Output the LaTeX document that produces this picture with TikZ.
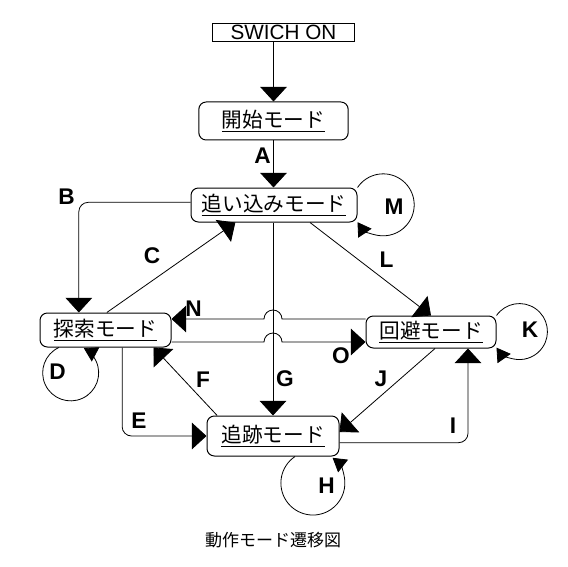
\documentclass[tikz,border=0pt]{standalone}
\usepackage{fontspec}
\setmainfont{Liberation Sans}
\newfontfamily\jpfont{Noto Sans CJK JP}
\usetikzlibrary{arrows.meta,calc,positioning}
\tikzset{
  mode/.style={draw,rounded corners=5.5pt,line width=0.75pt,inner sep=0pt,font=\jpfont\fontsize{15.5}{16}\selectfont},
  srcbox/.style={draw,line width=0.75pt,inner sep=0pt,minimum width=107pt,minimum height=14pt,font=\fontsize{15.5}{16}\selectfont},
  edge/.style={-{Triangle[length=11pt,width=20pt]},line width=0.6pt},
  elbow/.style={edge,rounded corners=7pt},
  selfloop/.style={-{Triangle[length=10pt,width=12pt]},line width=0.6pt},
  lbl/.style={font=\bfseries\fontsize{17}{17}\selectfont,inner sep=0pt}
}
\begin{document}
\begin{tikzpicture}[x=0.75pt,y=-0.75pt]
\useasboundingbox (0,0) rectangle (568,567);
% modes
\node[srcbox] (power) at (283.5,32.5) {SWICH ON};
\node[mode,minimum width=112pt,minimum height=28.5pt] (start) at (273.5,121) {\underline{開始モード}};
\node[mode,minimum width=124.5pt,minimum height=25.5pt] (drive) at (274,205) {\underline{追い込みモード}};
\node[mode,minimum width=98.25pt,minimum height=25.5pt] (search) at (105.5,330) {\underline{探索モード}};
\node[mode,minimum width=97.5pt,minimum height=24pt] (avoid) at (431,332) {\underline{回避モード}};
\node[mode,minimum width=99pt,minimum height=30pt] (chase) at (273,436) {\underline{追跡モード}};
% where N and O jump over G
\coordinate (xN) at (273,319);
\coordinate (xO) at (273,342);
% transitions
\draw[edge] (start.north |- power.south) -- (start.north);
\draw[edge] (start.south) -- (start.south |- drive.north);
\draw[elbow] ([yshift=2pt]drive.west) -| ([xshift=-20pt]search.north);
\draw[edge] ([xshift=1pt]search.north) -- ([xshift=-29pt]drive.south);
\draw[edge] ([xshift=27pt]drive.south) -- (avoid.north);
\draw[edge] (chase.north |- drive.south) -- (chase.north);
\draw[edge] (avoid.west |- xN) -- ($(xN)+(9,0)$) arc[start angle=0,end angle=-180,radius=9] -- (search.east |- xN);
\draw[edge] (search.east |- xO) -- ($(xO)+(-9,0)$) arc[start angle=180,end angle=360,radius=9] -- (avoid.west |- xO);
\draw[elbow] ([xshift=12.5pt]search.south) |- (chase.west);
\draw[edge] ([xshift=8pt]chase.north west) -- ([xshift=-13.5pt]search.south east);
\draw[edge] ([xshift=3pt]avoid.south) -- ([yshift=3pt]chase.east);
\draw[elbow] ([yshift=-5pt]chase.east) -| ([xshift=27.75pt]avoid.south);
% self loops
\draw[selfloop] (drive.north east) arc[start angle=-146,end angle=146,radius=31];
\draw[selfloop] (avoid.north east) arc[start angle=-145,end angle=145,radius=28];
\draw[selfloop] ([xshift=-35pt]search.south) arc[start angle=245,end angle=-62,radius=28];
\draw[selfloop] ([xshift=16.5pt]chase.south) arc[start angle=236,end angle=-52,radius=32];
% labels
\node[lbl] (lA) at (262.5,155.5) {A};
\node[lbl] (lB) at (66.5,196.5) {B};
\node[lbl] (lC) at (152,256) {C};
\node[lbl] (lD) at (57.5,372) {D};
\node[lbl] (lE) at (139,420.5) {E};
\node[lbl] (lF) at (203,380) {F};
\node[lbl] (lG) at (285,379) {G};
\node[lbl] (lH) at (326.5,485.5) {H};
\node[lbl] (lI) at (453,425.5) {I};
\node[lbl] (lJ) at (381,379) {J};
\node[lbl] (lK) at (530,330) {K};
\node[lbl] (lL) at (386.5,260) {L};
\node[lbl] (lM) at (394,206.5) {M};
\node[lbl] (lN) at (193.5,308.5) {N};
\node[lbl] (lO) at (341,355.5) {O};
\node[font=\jpfont\fontsize{12.75}{13}\selectfont] (title) at (273,540) {動作モード遷移図};
\end{tikzpicture}
\end{document}
